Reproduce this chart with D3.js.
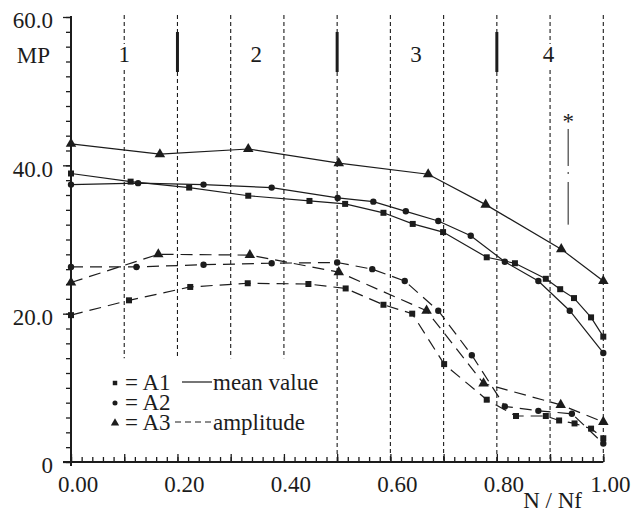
<!DOCTYPE html>
<html>
<head>
<meta charset="utf-8">
<script src="https://cdn.jsdelivr.net/npm/d3@7"></script>
</head>
<body style="margin:0; background:#fff;">
<svg id="chart" width="635" height="513"></svg>
<script>
// values (N/Nf vs MP)
const a1MeanX = [0, 0.112, 0.222, 0.333, 0.448, 0.515, 0.587, 0.642, 0.699, 0.781, 0.834, 0.892, 0.919, 0.945, 0.977, 1.0];
const a1MeanY = [38.9, 37.8, 37.0, 35.9, 35.2, 34.8, 33.6, 32.1, 31.0, 27.6, 26.8, 24.7, 23.3, 22.1, 19.5, 16.9];
const a2MeanX = [0, 0.126, 0.249, 0.377, 0.501, 0.568, 0.629, 0.69, 0.751, 0.815, 0.878, 0.937, 1.0];
const a2MeanY = [37.4, 37.6, 37.4, 37.0, 35.6, 35.1, 33.8, 32.5, 30.5, 27.0, 24.4, 20.4, 14.7];
const a3MeanX = [0, 0.167, 0.333, 0.503, 0.671, 0.779, 0.921, 1.0];
const a3MeanY = [42.9, 41.5, 42.2, 40.3, 38.8, 34.7, 28.7, 24.4];

const a1AmpX = [0, 0.109, 0.224, 0.332, 0.446, 0.516, 0.587, 0.641, 0.701, 0.781, 0.836, 0.892, 0.917, 0.946, 0.977, 1.0];
const a1AmpY = [19.8, 21.8, 23.6, 24.1, 24.0, 23.4, 21.2, 20.0, 13.2, 8.4, 6.2, 6.2, 5.6, 5.2, 4.5, 3.2];
const a2AmpX = [0, 0.123, 0.249, 0.377, 0.5, 0.566, 0.627, 0.69, 0.753, 0.815, 0.878, 0.941, 1.0];
const a2AmpY = [26.3, 26.3, 26.6, 26.8, 26.9, 26.0, 24.4, 20.4, 14.4, 7.5, 6.9, 6.5, 2.5];
const a3AmpX = [0, 0.164, 0.336, 0.503, 0.668, 0.775, 0.92, 1.0];
const a3AmpY = [24.2, 28.0, 27.9, 25.6, 20.4, 10.6, 7.7, 5.4];

// phases
const gridLines = [0.1, 0.2, 0.3, 0.4, 0.5, 0.6, 0.7, 0.8, 0.9, 1.0];
const phaseBounds = [0.2, 0.5, 0.8];
const phaseLabels = ["1", "2", "3", "4"];
const phaseLabelX = [0.1, 0.348, 0.648, 0.897];

// scatter band marked with *
const scatterX = 0.934;
const scatterTop = 44.9;
const scatterBottom = 32.0;

const yTicks = [0, 20, 40, 60];
const xTicks = [0, 0.2, 0.4, 0.6, 0.8, 1.0];

const ink = "#1c1c1c";
const fontFam = "Liberation Serif";
const fontSize = 23;
const svg = d3.select("#chart");

let x = d3.scaleLinear().domain([0, 1]).range([71, 603.3]);
let y = d3.scaleLinear().domain([0, 60]).range([462, 17]);

// helper for plain text labels
function label(px, py, str, anchor) {
    return svg.append("text")
        .attr("x", px).attr("y", py)
        .attr("text-anchor", anchor || "start")
        .attr("font-family", fontFam)
        .attr("font-size", fontSize)
        .attr("fill", ink)
        .text(str);
}

// vertical dashed lines
gridLines.forEach(function (g) {
    let bottom = g < 0.45 ? y(14) : y(0);
    let segs = [[y(60) - 2, bottom]];
    if (g === 0.1 || g === 0.9) segs = [[y(60) - 2, 44], [70, bottom]];
    if (phaseBounds.includes(g)) segs = [[y(60) - 2, 32], [72, bottom]];
    segs.forEach(s => {
        svg.append("line")
            .attr("x1", x(g)).attr("x2", x(g))
            .attr("y1", s[0]).attr("y2", s[1])
            .attr("stroke", ink).attr("stroke-width", 1.1)
            .attr("stroke-dasharray", "4,3");
    });
});

// thick phase bars
svg.selectAll(".bar")
    .data(phaseBounds)
    .enter().append("line")
    .attr("class", "bar")
    .attr("x1", d => x(d)).attr("x2", d => x(d))
    .attr("y1", 32).attr("y2", 72)
    .attr("stroke", ink).attr("stroke-width", 3);

phaseLabels.forEach((p, i) => label(x(phaseLabelX[i]), 62, p, "middle"));

// y axis
let yMinor = svg.append("g").attr("transform", "translate(71,0)")
    .call(d3.axisLeft(y).tickValues(d3.range(0, 61, 2)).tickSize(5).tickSizeOuter(0).tickFormat(""));
yMinor.select(".domain").remove();
yMinor.selectAll("line").attr("stroke", ink).attr("stroke-width", 1.3);

let yAxis = svg.append("g").attr("transform", "translate(71,0)")
    .call(d3.axisLeft(y).tickValues(yTicks).tickSize(8).tickSizeOuter(0).tickPadding(10)
        .tickFormat(d => d === 0 ? "0" : d.toFixed(1)));
yAxis.select(".domain").remove();
yAxis.attr("font-family", fontFam).attr("font-size", fontSize);
yAxis.selectAll("line").attr("stroke", ink).attr("stroke-width", 1.3);
yAxis.selectAll("text")
    .attr("dy", "0.47em")
    .attr("fill", ink);

svg.append("line")
    .attr("x1", 71).attr("x2", 71)
    .attr("y1", y(60) - 1).attr("y2", y(0) + 4)
    .attr("stroke", ink).attr("stroke-width", 2);

// x axis, ticks pointing up
let xMinor = svg.append("g").attr("transform", "translate(0,462)")
    .call(d3.axisBottom(x).tickValues(d3.range(0, 51).map(i => i / 50)).tickSizeInner(-5).tickSizeOuter(0).tickFormat(""));
xMinor.select(".domain").remove();
xMinor.selectAll("line").attr("stroke", ink).attr("stroke-width", 1.3);

let xAxis = svg.append("g").attr("transform", "translate(0,462)")
    .call(d3.axisBottom(x).tickValues(gridLines.concat([0])).tickSizeInner(-8).tickSizeOuter(0).tickFormat(""));
xAxis.select(".domain").remove();
xAxis.selectAll("line").attr("stroke", ink).attr("stroke-width", 1.3);

svg.append("line")
    .attr("x1", 63).attr("x2", x(1))
    .attr("y1", 462).attr("y2", 462)
    .attr("stroke", ink).attr("stroke-width", 2);

xTicks.forEach(t => label(x(t) + 7, 491.5, t.toFixed(2), "middle"));

label(582, 508, "N / Nf", "end");
label(50, 63, "MP", "end");

// series
let series = [
    {xs: a1MeanX, ys: a1MeanY, sym: d3.symbolSquare, dash: null},
    {xs: a2MeanX, ys: a2MeanY, sym: d3.symbolCircle, dash: null},
    {xs: a3MeanX, ys: a3MeanY, sym: d3.symbolTriangle, dash: null},
    {xs: a1AmpX, ys: a1AmpY, sym: d3.symbolSquare, dash: "12,7"},
    {xs: a2AmpX, ys: a2AmpY, sym: d3.symbolCircle, dash: "12,7"},
    {xs: a3AmpX, ys: a3AmpY, sym: d3.symbolTriangle, dash: "12,7"}
];

let symSize = s => s === d3.symbolTriangle ? 48 : (s === d3.symbolSquare ? 36 : 32);

let line = d3.line().x(d => x(d[0])).y(d => y(d[1]));

series.forEach(function (s) {
    let pts = s.xs.map((v, i) => [v, s.ys[i]]);
    svg.append("path")
        .datum(pts)
        .attr("d", line)
        .attr("fill", "none")
        .attr("stroke", ink)
        .attr("stroke-width", 1.2)
        .attr("stroke-dasharray", s.dash);
    svg.append("g").selectAll("path")
        .data(pts)
        .enter().append("path")
        .attr("transform", d => "translate(" + x(d[0]) + "," + y(d[1]) + ")")
        .attr("d", d3.symbol().type(s.sym).size(symSize(s.sym)))
        .attr("fill", ink);
});

// scatter band
label(x(scatterX), 129, "*", "middle");
svg.append("line")
    .attr("x1", x(scatterX)).attr("x2", x(scatterX))
    .attr("y1", y(scatterTop)).attr("y2", y(scatterBottom))
    .attr("stroke", ink).attr("stroke-width", 1)
    .attr("stroke-dasharray", "37,6,2,8,60");

// legend
let legendRows = [
    {sym: d3.symbolSquare, label: "= A1", y: 390},
    {sym: d3.symbolCircle, label: "= A2", y: 410},
    {sym: d3.symbolTriangle, label: "= A3", y: 430}
];
legendRows.forEach(function (r) {
    svg.append("path")
        .attr("transform", "translate(115," + (r.y - 7) + ")")
        .attr("d", d3.symbol().type(r.sym).size(r.sym === d3.symbolTriangle ? 30 : 20))
        .attr("fill", ink);
    label(125, r.y, r.label);
});
svg.append("line")
    .attr("x1", 182).attr("x2", 212).attr("y1", 382).attr("y2", 382)
    .attr("stroke", ink).attr("stroke-width", 1.2);
label(213, 390, "mean value");
svg.append("line")
    .attr("x1", 175).attr("x2", 212).attr("y1", 422).attr("y2", 422)
    .attr("stroke", ink).attr("stroke-width", 1.2)
    .attr("stroke-dasharray", "6,4");
label(213, 430, "amplitude");
</script>
</body>
</html>
